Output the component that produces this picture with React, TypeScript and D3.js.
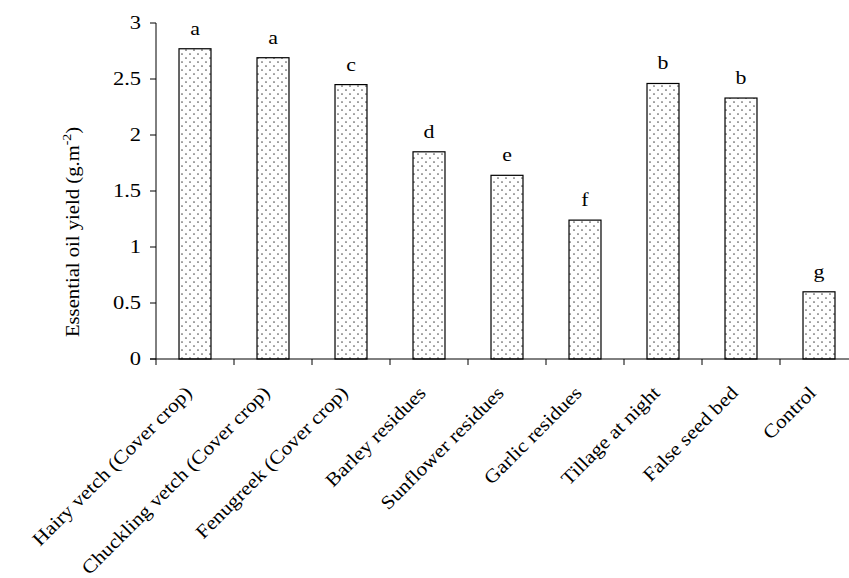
import React from "react";
import * as d3 from "d3";

const categories = [
  "Hairy vetch (Cover crop)",
  "Chuckling vetch (Cover crop)",
  "Fenugreek (Cover crop)",
  "Barley residues",
  "Sunflower residues",
  "Garlic residues",
  "Tillage at night",
  "False seed bed",
  "Control",
];
const yieldValues = [2.77, 2.69, 2.45, 1.85, 1.64, 1.24, 2.46, 2.33, 0.6];
const groupLetters = ["a", "a", "c", "d", "e", "f", "b", "b", "g"];
const yTicks = [0, 0.5, 1, 1.5, 2, 2.5, 3];

const W = 849;
const H = 578;
const FONT = "'Liberation Serif', 'Times New Roman', Times, serif";
const FS = 18;
const SX = 1.15; // glyphs are set slightly wide
const txt = { fontFamily: FONT, fill: "#000" };

export default function App() {
  const x0 = 156;
  const bandW = 78;
  const x = d3
    .scaleBand<string>()
    .domain(categories)
    .range([x0, x0 + bandW * categories.length])
    .paddingInner(0.59)
    .paddingOuter(0.295);
  const y = d3.scaleLinear().domain([0, 3]).range([359, 23]);

  const boundaries = d3.range(categories.length + 1).map((i) => x0 + i * bandW);

  return (
    <svg
      width={W}
      height={H}
      style={{ position: "absolute", left: 0, top: 0, background: "#fff" }}
    >
      <defs>
        <pattern id="dots" width={8} height={8} patternUnits="userSpaceOnUse">
          <rect width={8} height={8} fill="#fff" />
          <circle cx={2} cy={2} r={0.85} fill="#555" />
          <circle cx={6} cy={6} r={0.85} fill="#555" />
        </pattern>
      </defs>

      {/* bars */}
      {categories.map((c, i) => (
        <g key={c}>
          <rect
            x={x(c)}
            y={y(yieldValues[i])}
            width={x.bandwidth()}
            height={y(0) - y(yieldValues[i])}
            fill="url(#dots)"
            stroke="#000"
            strokeWidth={1.2}
          />
          <text
            transform={`translate(${(x(c) as number) + x.bandwidth() / 2},${y(yieldValues[i]) - 14}) scale(${SX},1)`}
            textAnchor="middle"
            fontSize={FS + 1}
            style={txt}
          >
            {groupLetters[i]}
          </text>
        </g>
      ))}

      {/* y axis */}
      <line x1={x0} x2={x0} y1={y(3)} y2={y(0)} stroke="#000" strokeWidth={1} />
      {yTicks.map((t) => (
        <g key={t}>
          <line x1={x0 - 6} x2={x0} y1={y(t)} y2={y(t)} stroke="#000" strokeWidth={1} />
          <text
            transform={`translate(${x0 - 15},${y(t) + 6}) scale(${SX + 0.1},1)`}
            textAnchor="end"
            fontSize={FS}
            style={txt}
          >
            {t}
          </text>
        </g>
      ))}

      {/* x axis */}
      <line x1={x0 - 6} x2={W} y1={y(0)} y2={y(0)} stroke="#000" strokeWidth={1} />
      {boundaries.map((b) => (
        <line key={b} x1={b} x2={b} y1={y(0)} y2={y(0) + 6} stroke="#000" strokeWidth={1} />
      ))}
      {categories.map((c) => {
        const cx = (x(c) as number) + x.bandwidth() / 2 - 2;
        const cy = y(0) + 35;
        return (
          <text
            key={c}
            transform={`translate(${cx},${cy}) rotate(-45) scale(1.13,1)`}
            textAnchor="end"
            fontSize={19}
            style={txt}
          >
            {c}
          </text>
        );
      })}

      {/* y axis title */}
      <text
        transform={`translate(79,232) rotate(-90) scale(${SX},1)`}
        textAnchor="middle"
        fontSize={FS}
        style={txt}
      >
        Essential oil yield (g.m
        <tspan dy={-8} fontSize={12}>-2</tspan>
        <tspan dy={8}>)</tspan>
      </text>
    </svg>
  );
}
